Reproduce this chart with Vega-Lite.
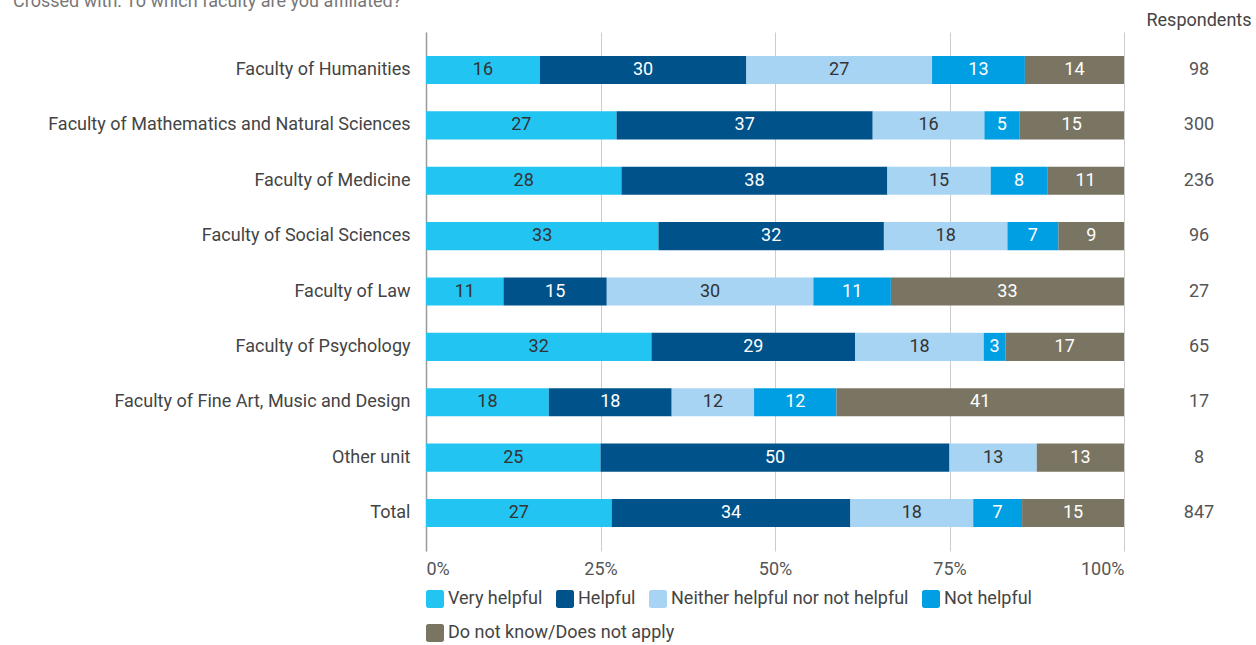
{
  "$schema": "https://vega.github.io/schema/vega-lite/v6.json",
  "background": "white",
  "padding": {"left": 13, "top": -7, "right": 0, "bottom": 0},
  "title": {"text": "Crossed with: To which faculty are you affiliated?", "anchor": "start", "fontSize": 18, "fontWeight": "normal", "color": "#777777", "font": "Roboto", "offset": 1},
  "config": {"font": "Roboto", "view": {"stroke": null}, "concat": {"spacing": 20}},
  "datasets": {
    "answers": [
      {"faculty": "Faculty of Humanities", "answer": "Very helpful", "k": 1, "pct": 16.3},
      {"faculty": "Faculty of Humanities", "answer": "Helpful", "k": 2, "pct": 29.6},
      {"faculty": "Faculty of Humanities", "answer": "Neither helpful nor not helpful", "k": 3, "pct": 26.6},
      {"faculty": "Faculty of Humanities", "answer": "Not helpful", "k": 4, "pct": 13.3},
      {"faculty": "Faculty of Humanities", "answer": "Do not know/Does not apply", "k": 5, "pct": 14.2},
      {"faculty": "Faculty of Mathematics and Natural Sciences", "answer": "Very helpful", "k": 1, "pct": 27.3},
      {"faculty": "Faculty of Mathematics and Natural Sciences", "answer": "Helpful", "k": 2, "pct": 36.7},
      {"faculty": "Faculty of Mathematics and Natural Sciences", "answer": "Neither helpful nor not helpful", "k": 3, "pct": 16.0},
      {"faculty": "Faculty of Mathematics and Natural Sciences", "answer": "Not helpful", "k": 4, "pct": 5.0},
      {"faculty": "Faculty of Mathematics and Natural Sciences", "answer": "Do not know/Does not apply", "k": 5, "pct": 15.0},
      {"faculty": "Faculty of Medicine", "answer": "Very helpful", "k": 1, "pct": 28.0},
      {"faculty": "Faculty of Medicine", "answer": "Helpful", "k": 2, "pct": 38.1},
      {"faculty": "Faculty of Medicine", "answer": "Neither helpful nor not helpful", "k": 3, "pct": 14.8},
      {"faculty": "Faculty of Medicine", "answer": "Not helpful", "k": 4, "pct": 8.1},
      {"faculty": "Faculty of Medicine", "answer": "Do not know/Does not apply", "k": 5, "pct": 11.0},
      {"faculty": "Faculty of Social Sciences", "answer": "Very helpful", "k": 1, "pct": 33.3},
      {"faculty": "Faculty of Social Sciences", "answer": "Helpful", "k": 2, "pct": 32.3},
      {"faculty": "Faculty of Social Sciences", "answer": "Neither helpful nor not helpful", "k": 3, "pct": 17.7},
      {"faculty": "Faculty of Social Sciences", "answer": "Not helpful", "k": 4, "pct": 7.3},
      {"faculty": "Faculty of Social Sciences", "answer": "Do not know/Does not apply", "k": 5, "pct": 9.4},
      {"faculty": "Faculty of Law", "answer": "Very helpful", "k": 1, "pct": 11.1},
      {"faculty": "Faculty of Law", "answer": "Helpful", "k": 2, "pct": 14.8},
      {"faculty": "Faculty of Law", "answer": "Neither helpful nor not helpful", "k": 3, "pct": 29.6},
      {"faculty": "Faculty of Law", "answer": "Not helpful", "k": 4, "pct": 11.1},
      {"faculty": "Faculty of Law", "answer": "Do not know/Does not apply", "k": 5, "pct": 33.4},
      {"faculty": "Faculty of Psychology", "answer": "Very helpful", "k": 1, "pct": 32.3},
      {"faculty": "Faculty of Psychology", "answer": "Helpful", "k": 2, "pct": 29.2},
      {"faculty": "Faculty of Psychology", "answer": "Neither helpful nor not helpful", "k": 3, "pct": 18.4},
      {"faculty": "Faculty of Psychology", "answer": "Not helpful", "k": 4, "pct": 3.1},
      {"faculty": "Faculty of Psychology", "answer": "Do not know/Does not apply", "k": 5, "pct": 17.0},
      {"faculty": "Faculty of Fine Art, Music and Design", "answer": "Very helpful", "k": 1, "pct": 17.6},
      {"faculty": "Faculty of Fine Art, Music and Design", "answer": "Helpful", "k": 2, "pct": 17.6},
      {"faculty": "Faculty of Fine Art, Music and Design", "answer": "Neither helpful nor not helpful", "k": 3, "pct": 11.8},
      {"faculty": "Faculty of Fine Art, Music and Design", "answer": "Not helpful", "k": 4, "pct": 11.8},
      {"faculty": "Faculty of Fine Art, Music and Design", "answer": "Do not know/Does not apply", "k": 5, "pct": 41.2},
      {"faculty": "Other unit", "answer": "Very helpful", "k": 1, "pct": 25.0},
      {"faculty": "Other unit", "answer": "Helpful", "k": 2, "pct": 50.0},
      {"faculty": "Other unit", "answer": "Neither helpful nor not helpful", "k": 3, "pct": 12.5},
      {"faculty": "Other unit", "answer": "Do not know/Does not apply", "k": 5, "pct": 12.5},
      {"faculty": "Total", "answer": "Very helpful", "k": 1, "pct": 26.6},
      {"faculty": "Total", "answer": "Helpful", "k": 2, "pct": 34.2},
      {"faculty": "Total", "answer": "Neither helpful nor not helpful", "k": 3, "pct": 17.6},
      {"faculty": "Total", "answer": "Not helpful", "k": 4, "pct": 7.0},
      {"faculty": "Total", "answer": "Do not know/Does not apply", "k": 5, "pct": 14.6}
    ],
    "resp": [
      {"faculty": "Faculty of Humanities", "n": 98},
      {"faculty": "Faculty of Mathematics and Natural Sciences", "n": 300},
      {"faculty": "Faculty of Medicine", "n": 236},
      {"faculty": "Faculty of Social Sciences", "n": 96},
      {"faculty": "Faculty of Law", "n": 27},
      {"faculty": "Faculty of Psychology", "n": 65},
      {"faculty": "Faculty of Fine Art, Music and Design", "n": 17},
      {"faculty": "Other unit", "n": 8},
      {"faculty": "Total", "n": 847}
    ]
  },
  "hconcat": [
    {
      "width": 698,
      "height": 519,
      "data": {"name": "answers"},
      "transform": [
        {"stack": "pct", "groupby": ["faculty"], "sort": [{"field": "k", "order": "ascending"}], "as": ["x0", "x1"]},
        {"calculate": "(datum.x0 + datum.x1) / 2", "as": "mid"}
      ],
      "encoding": {
        "y": {
          "field": "faculty", "type": "nominal",
          "sort": ["Faculty of Humanities", "Faculty of Mathematics and Natural Sciences", "Faculty of Medicine", "Faculty of Social Sciences", "Faculty of Law", "Faculty of Psychology", "Faculty of Fine Art, Music and Design", "Other unit", "Total"],
          "scale": {"type": "band", "paddingInner": 0.494, "paddingOuter": 0.433},
          "axis": {"title": null, "domain": true, "domainColor": "#9a9a9a", "domainWidth": 1.5, "ticks": false, "labelFontSize": 18, "labelColor": "#444444", "labelPadding": 16, "minExtent": 413, "maxExtent": 413, "labelLimit": 413, "grid": false}
        }
      },
      "layer": [
        {
          "mark": {"type": "bar", "strokeWidth": 0},
          "encoding": {
            "x": {
              "field": "x0", "type": "quantitative",
              "scale": {"domain": [0, 100], "nice": false},
              "axis": {"title": null, "values": [0, 25, 50, 75, 100], "labelExpr": "datum.value + '%'", "labelFlush": true, "grid": true, "gridColor": "#cccccc", "domain": false, "ticks": false, "labelPadding": 9, "labelFontSize": 18, "labelColor": "#555555"}
            },
            "x2": {"field": "x1"},
            "color": {
              "field": "answer", "type": "nominal",
              "scale": {
                "domain": ["Very helpful", "Helpful", "Neither helpful nor not helpful", "Not helpful", "Do not know/Does not apply"],
                "range": ["#22c4f2", "#00528a", "#a8d4f4", "#009ee2", "#7a7562"]
              },
              "legend": {
                "title": null, "orient": "bottom", "direction": "horizontal",
                "values": ["Very helpful", "Helpful", "Neither helpful nor not helpful", "Not helpful"],
                "symbolType": "M-0.75,-1H0.75A0.25,0.25,0,0,1,1,-0.75V0.75A0.25,0.25,0,0,1,0.75,1H-0.75A0.25,0.25,0,0,1,-1,0.75V-0.75A0.25,0.25,0,0,1,-0.75,-1Z",
                "symbolSize": 324, "symbolStrokeWidth": 0, "symbolOpacity": 1,
                "labelFontSize": 18, "labelColor": "#444444", "labelOffset": 4, "labelLimit": 400,
                "columnPadding": 13, "offset": 12
              }
            },
            "stroke": {
              "field": "answer", "type": "nominal",
              "scale": {"domain": ["Do not know/Does not apply"], "range": ["#7a7562"]},
              "legend": {
                "title": null, "orient": "none", "legendX": 0, "legendY": 592, "direction": "horizontal",
                "symbolType": "M-0.75,-1H0.75A0.25,0.25,0,0,1,1,-0.75V0.75A0.25,0.25,0,0,1,0.75,1H-0.75A0.25,0.25,0,0,1,-1,0.75V-0.75A0.25,0.25,0,0,1,-0.75,-1Z",
                "symbolSize": 324, "symbolStrokeWidth": 0, "symbolFillColor": "#7a7562", "symbolOpacity": 1,
                "labelFontSize": 18, "labelColor": "#444444", "labelOffset": 4, "labelLimit": 400
              }
            },
            "order": {"field": "k", "type": "quantitative"}
          }
        },
        {
          "mark": {"type": "text", "fontSize": 18},
          "encoding": {
            "x": {"field": "mid", "type": "quantitative"},
            "text": {"field": "pct", "type": "quantitative", "format": ".0f"},
            "color": {
              "condition": {"test": "datum.answer === 'Very helpful' || datum.answer === 'Neither helpful nor not helpful'", "value": "#333333"},
              "value": "#ffffff"
            }
          }
        }
      ]
    },
    {
      "width": 110,
      "height": 519,
      "data": {"name": "resp"},
      "title": {"text": "Respondents", "anchor": "middle", "fontSize": 18, "fontWeight": "normal", "color": "#444444", "offset": 2},
      "mark": {"type": "text", "fontSize": 18, "color": "#555555"},
      "encoding": {
        "y": {
          "field": "faculty", "type": "nominal",
          "sort": ["Faculty of Humanities", "Faculty of Mathematics and Natural Sciences", "Faculty of Medicine", "Faculty of Social Sciences", "Faculty of Law", "Faculty of Psychology", "Faculty of Fine Art, Music and Design", "Other unit", "Total"],
          "scale": {"type": "band", "paddingInner": 0.494, "paddingOuter": 0.433},
          "axis": null
        },
        "text": {"field": "n", "type": "quantitative"}
      }
    }
  ],
  "resolve": {"legend": {"color": "independent", "stroke": "independent"}}
}
